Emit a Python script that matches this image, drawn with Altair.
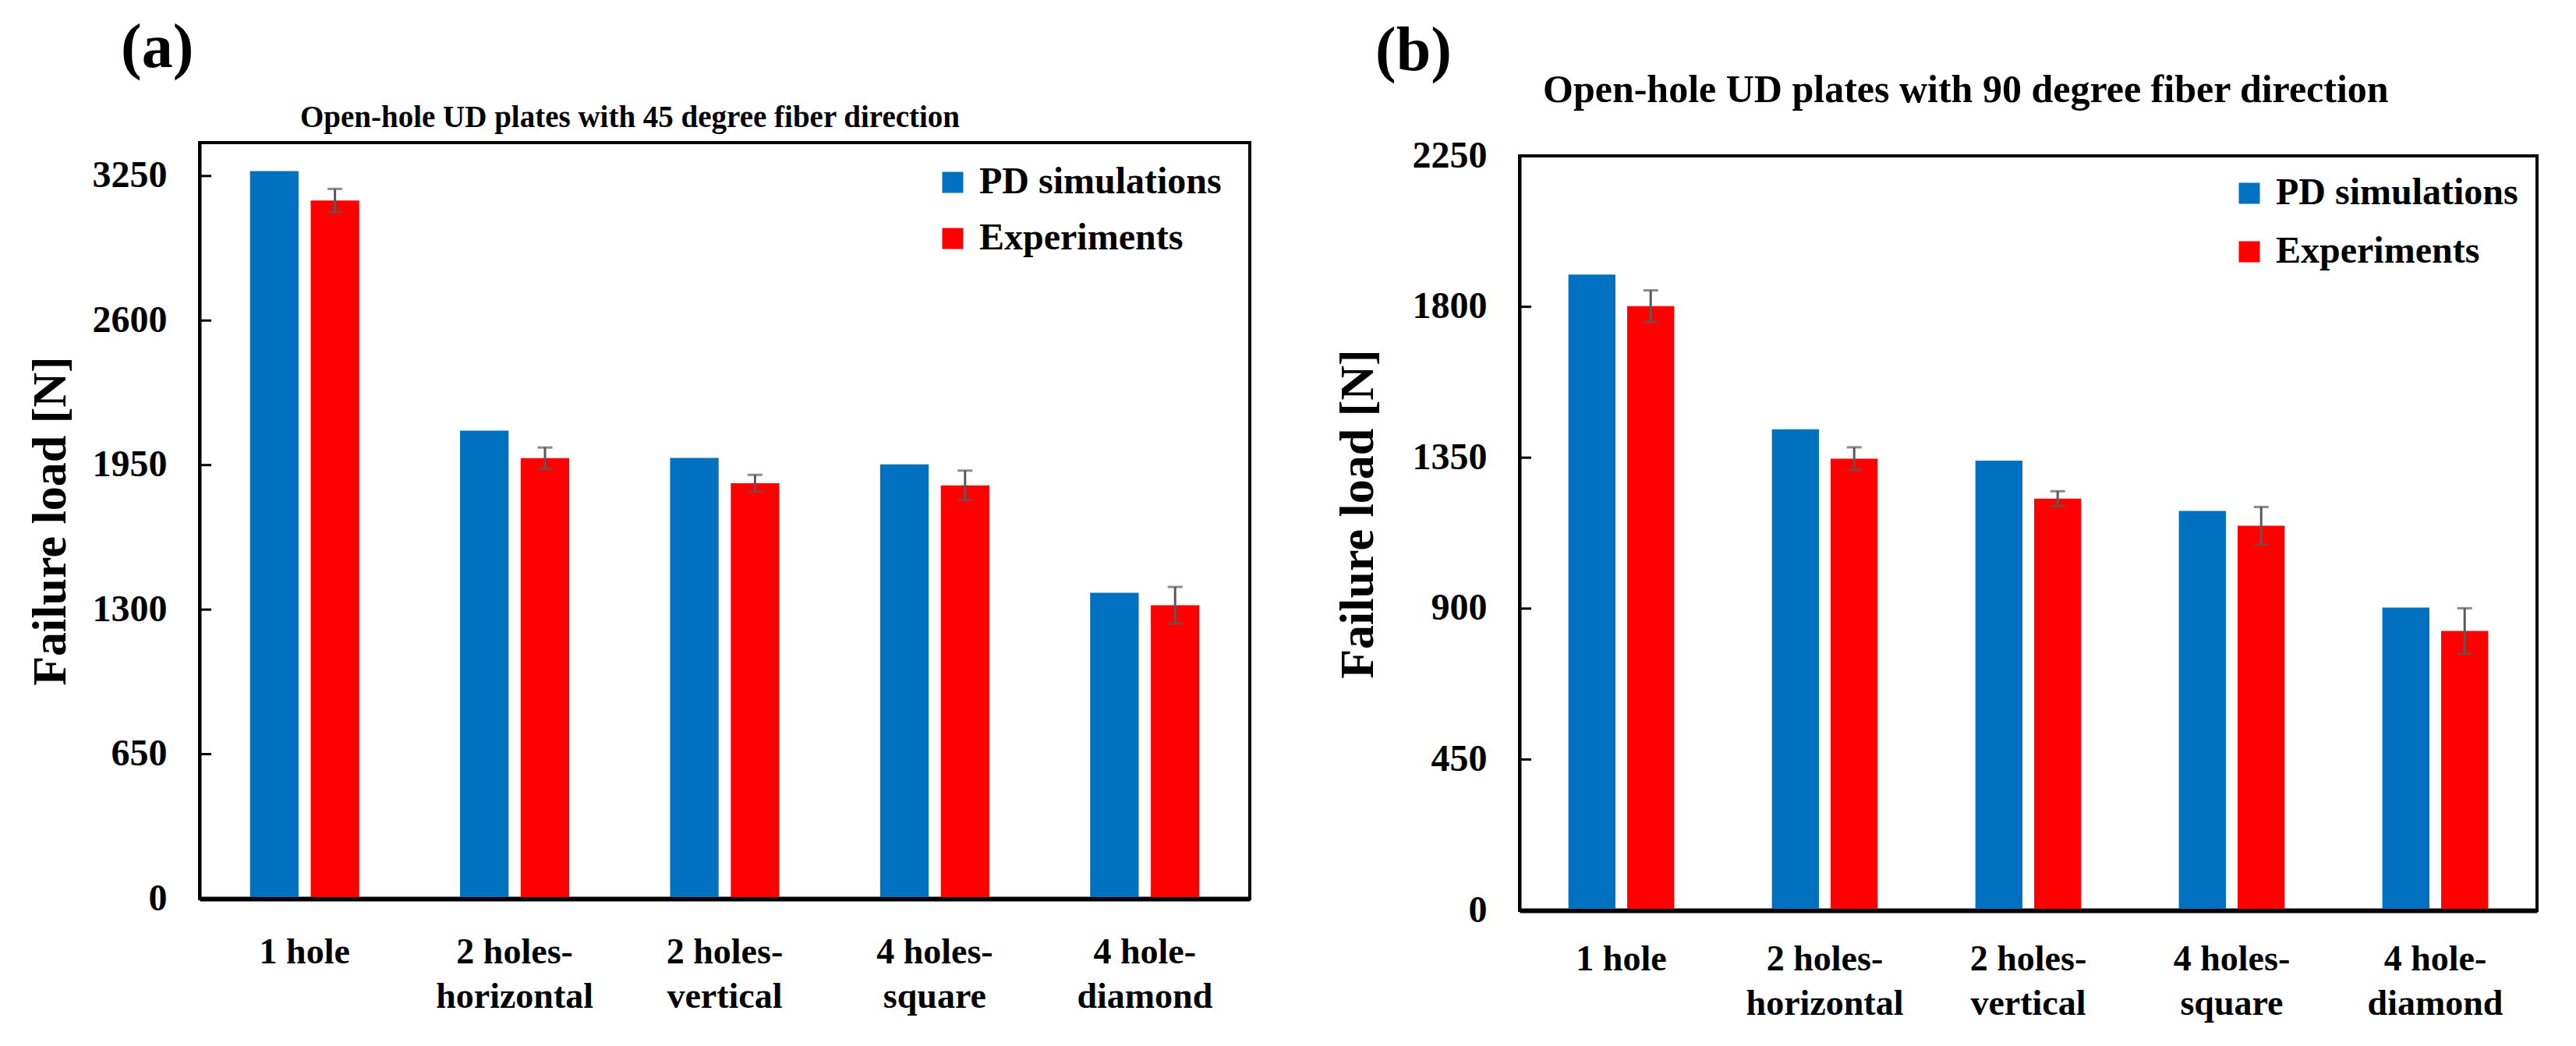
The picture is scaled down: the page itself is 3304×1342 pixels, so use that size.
import altair as alt
import pandas as pd

categories = ["1 hole", "2 holes-horizontal", "2 holes-vertical", "4 holes-square", "4 hole-diamond"]
series = ["PD simulations", "Experiments"]
colors = ["#0070C0", "#FF0000"]

pd_45 = [3272, 2105, 1982, 1953, 1376]
exp_45 = [3140, 1981, 1868, 1859, 1320]
err_45 = [52, 48, 38, 66, 82]

pd_90 = [1896, 1435, 1341, 1191, 903]
exp_90 = [1802, 1347, 1228, 1147, 833]
err_90 = [47, 34, 22, 56, 68]

ticks_45 = [0, 650, 1300, 1950, 2600, 3250]
ticks_90 = [0, 450, 900, 1350, 1800, 2250]

FONT = "Liberation Serif"

label_expr = ("indexof(datum.label, '-') > 0 ? "
              "[slice(datum.label, 0, indexof(datum.label, '-') + 1), "
              "slice(datum.label, indexof(datum.label, '-') + 1)] : datum.label")


def anchor(px, py):
    return alt.Chart(pd.DataFrame({"a": [0]})).mark_rule(color="white", strokeWidth=1).encode(
        x=alt.value(px), x2=alt.value(px), y=alt.value(py), y2=alt.value(py + 1))


def panel(pd_vals, exp_vals, err_vals, ticks, ymax, tag, title, w, h, t0,
          tag_pos, title_pos, title_size, legend_pos, row_pad, anchors,
          xlab_pad, ytitle_pad, ytitle_y):
    df = pd.DataFrame({
        "cat": categories * 2,
        "series": [series[0]] * len(categories) + [series[1]] * len(categories),
        "load": pd_vals + exp_vals,
    })
    err = pd.DataFrame({
        "cat": categories,
        "series": [series[1]] * len(categories),
        "lo": [v - e for v, e in zip(exp_vals, err_vals)],
        "hi": [v + e for v, e in zip(exp_vals, err_vals)],
    })
    tdf = pd.DataFrame({"v": ticks})

    x = alt.X("cat:N", sort=categories,
              scale=alt.Scale(domain=categories, paddingInner=0.48, paddingOuter=0.24),
              axis=alt.Axis(title=None, labelAngle=0, ticks=False, labelExpr=label_expr,
                            labelFont=FONT, labelFontWeight="bold", labelFontSize=46,
                            labelLineHeight=57, labelPadding=xlab_pad, labelColor="black",
                            labelLimit=0, labelOverlap=False,
                            domainColor="black", domainWidth=6))
    xo = alt.XOffset("series:N", sort=series,
                     scale=alt.Scale(domain=series, paddingInner=0.2, paddingOuter=0))
    yscale = alt.Scale(domain=[0, ymax], nice=False, zero=True, range=[t0 + h, t0])
    yaxis_kw = dict(values=ticks, format="d", title="Failure load [N]", grid=False,
                    ticks=False,
                    labelFont=FONT, labelFontWeight="bold", labelFontSize=48,
                    labelColor="black", labelPadding=42,
                    titleFont=FONT, titleFontWeight="bold", titleFontSize=62,
                    titleColor="black", titlePadding=ytitle_pad,
                    domainColor="black", domainWidth=4)
    if ytitle_y is not None:
        yaxis_kw["titleY"] = ytitle_y
    y = alt.Y("load:Q", scale=yscale, axis=alt.Axis(**yaxis_kw))
    color = alt.Color("series:N", sort=series,
                      scale=alt.Scale(domain=series, range=colors),
                      legend=alt.Legend(title=None, orient="none",
                                        legendX=legend_pos[0], legendY=t0 + legend_pos[1],
                                        symbolType="square", symbolSize=729,
                                        symbolStrokeWidth=0, symbolOpacity=1,
                                        labelFont=FONT, labelFontWeight="bold",
                                        labelFontSize=48, labelColor="black",
                                        labelOffset=10, labelLimit=0,
                                        rowPadding=row_pad, padding=0))

    bars = alt.Chart(df).mark_bar().encode(x=x, xOffset=xo, y=y, color=color)
    rule = alt.Chart(err).mark_rule(color="#595959", strokeWidth=3).encode(
        x=alt.X("cat:N", sort=categories), xOffset=alt.XOffset("series:N", sort=series),
        y=alt.Y("lo:Q"), y2="hi:Q")
    cap_lo = alt.Chart(err).mark_tick(orient="horizontal", size=19, thickness=3,
                                      color="#595959").encode(
        x=alt.X("cat:N", sort=categories), xOffset=alt.XOffset("series:N", sort=series),
        y=alt.Y("lo:Q"))
    cap_hi = alt.Chart(err).mark_tick(orient="horizontal", size=19, thickness=3,
                                      color="#595959").encode(
        x=alt.X("cat:N", sort=categories), xOffset=alt.XOffset("series:N", sort=series),
        y=alt.Y("hi:Q"))
    inticks = alt.Chart(tdf).mark_rule(color="black", strokeWidth=3).encode(
        y=alt.Y("v:Q"), x=alt.value(0), x2=alt.value(15))
    frame = alt.Chart(pd.DataFrame({"f": [0]})).mark_rect(
        fillOpacity=0, stroke="black", strokeWidth=4).encode(
        x=alt.value(0), x2=alt.value(w), y=alt.value(t0), y2=alt.value(t0 + h))
    tag_t = alt.Chart(pd.DataFrame({"t": [tag]})).mark_text(
        align="left", baseline="alphabetic", font=FONT, fontWeight="bold",
        fontSize=80, color="black").encode(
        x=alt.value(tag_pos[0]), y=alt.value(t0 + tag_pos[1]), text="t:N")
    title_t = alt.Chart(pd.DataFrame({"t": [title]})).mark_text(
        align="left", baseline="alphabetic", font=FONT, fontWeight="bold",
        fontSize=title_size, color="black").encode(
        x=alt.value(title_pos[0]), y=alt.value(t0 + title_pos[1]), text="t:N")

    layers = [bars, rule, cap_lo, cap_hi, inticks, frame, tag_t, title_t]
    layers += [anchor(ax, ay) for ax, ay in anchors]
    return alt.layer(*layers).properties(width=w, height=t0 + h)


pa = panel(pd_45, exp_45, err_45, ticks_45, 3400, "(a)",
           "Open-hole UD plates with 45 degree fiber direction",
           1347, 970, 0, (-101, -97), (129, -20), 39, (942, 27), 24,
           [(-247, -174), (1357, -174)], 46, 22, None)
pb = panel(pd_90, exp_90, err_90, ticks_90, 2250, "(b)",
           "Open-hole UD plates with 90 degree fiber direction",
           1305, 968, 17, (-185, -110), (30, -69), 50, (912, 24), 27,
           [(-327, -174)], 40, 38, 476)

chart = alt.hconcat(pa, pb, spacing=7).resolve_scale(
    x="independent", y="independent", color="independent", xOffset="independent"
).resolve_legend(color="independent").properties(
    padding={"left": 0, "top": 0, "right": 5, "bottom": 5},
    background="white",
).configure_view(strokeWidth=0)

chart.save("out.html", embed_options={"renderer": "svg", "actions": False})
